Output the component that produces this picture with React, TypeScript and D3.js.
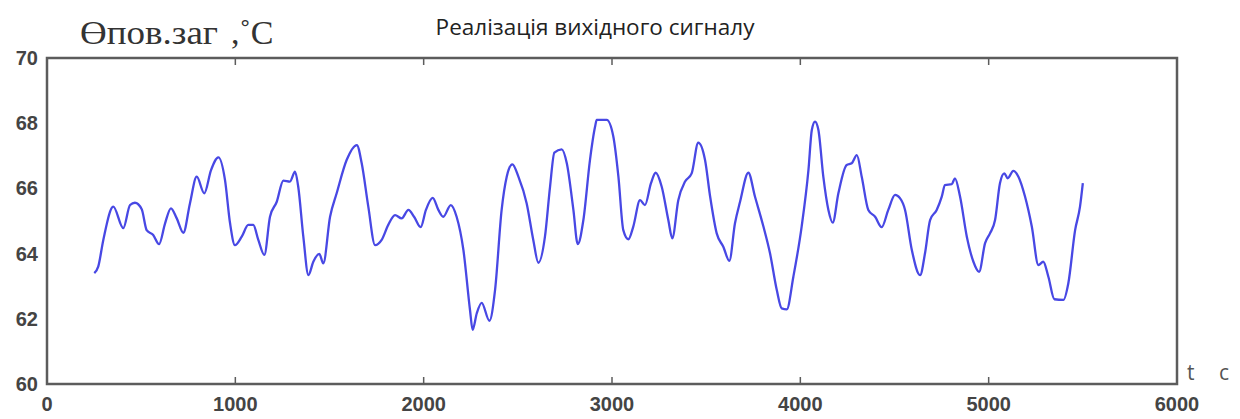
import React from "react";
import * as d3 from "d3";

const times = [251,272,299,352,405,441,467,503,529,564,595,627,658,689,724,759,795,835,871,910,945,972,998,1034,1069,1095,1122,1154,1184,1220,1255,1290,1317,1334,1361,1388,1414,1446,1467,1503,1538,1591,1645,1671,1706,1742,1777,1812,1848,1883,1919,1949,1984,2012,2048,2078,2104,2144,2175,2211,2246,2260,2282,2308,2349,2379,2414,2441,2471,2503,2547,2582,2609,2644,2671,2694,2733,2760,2795,2818,2848,2883,2910,2919,2972,3007,3034,3060,3087,3113,3149,3175,3207,3232,3264,3299,3320,3352,3388,3423,3458,3494,3521,3556,3591,3623,3653,3680,3724,3759,3804,3839,3875,3901,3928,3963,4007,4043,4061,4078,4096,4122,4149,4172,4202,4246,4273,4300,4326,4361,4397,4432,4467,4503,4529,4556,4592,4636,4662,4689,4724,4751,4768,4804,4821,4848,4884,4919,4949,4981,5007,5034,5060,5083,5101,5131,5158,5193,5229,5264,5290,5317,5349,5397,5423,5459,5485,5500];
const temps = [63.40,63.60,64.42,65.44,64.78,65.49,65.56,65.36,64.72,64.57,64.29,64.93,65.39,65.08,64.64,65.54,66.36,65.85,66.56,66.95,66.26,64.93,64.26,64.52,64.88,64.88,64.42,63.96,65.13,65.59,66.24,66.21,66.51,66.05,64.52,63.34,63.75,63.99,63.70,65.13,65.85,66.87,67.33,66.77,65.44,64.26,64.42,64.88,65.18,65.08,65.34,65.13,64.81,65.34,65.71,65.34,65.13,65.49,65.13,64.11,62.27,61.66,62.17,62.49,61.94,62.88,65.34,66.36,66.74,66.36,65.54,64.42,63.72,64.52,66.05,67.10,67.20,66.77,65.34,64.29,65.03,66.87,67.89,68.10,68.10,67.59,66.36,64.72,64.44,64.83,65.64,65.49,66.16,66.48,66.05,65.03,64.47,65.64,66.21,66.46,67.40,66.87,65.75,64.62,64.21,63.78,64.93,65.59,66.48,65.75,64.83,64.01,62.88,62.32,62.29,63.29,64.83,66.56,67.79,68.05,67.79,66.36,65.34,64.95,65.85,66.72,66.77,67.02,66.36,65.34,65.13,64.81,65.34,65.80,65.70,65.34,64.11,63.34,64.01,65.03,65.34,65.75,66.10,66.13,66.31,65.75,64.52,63.75,63.44,64.32,64.62,65.03,66.16,66.46,66.31,66.54,66.36,65.75,64.83,63.65,63.75,63.29,62.60,62.58,63.09,64.72,65.44,66.16];

const xTicks = [0,1000,2000,3000,4000,5000,6000];
const yTicks = [60,62,64,66,68,70];
const title = "Реалізація вихідного сигналу";
const yLabelMain = "Өпов.заг";
const yLabelUnit = ",˚С";
const xLabelT = "t";
const xLabelUnit = "с";

const W = 1240, H = 419;
const left = 47, right = 1177, top = 58, bottom = 384;

export default function App() {
  const x = d3.scaleLinear().domain([0, 6000]).range([left, right]);
  const y = d3.scaleLinear().domain([60, 70]).range([bottom, top]);
  const data = times.map((t, i) => [t, temps[i]] as [number, number]);
  const line = d3.line<[number, number]>().x(d => x(d[0])).y(d => y(d[1])).curve(d3.curveMonotoneX);
  const axisColor = "#5c5c5c";
  const labelColor = "#444";
  return (
    <svg width={W} height={H} style={{ position: "absolute", left: 0, top: 0, background: "#fff" }}>
      <rect x={left} y={top} width={right - left} height={bottom - top} fill="none" stroke={axisColor} strokeWidth={2.5} />
      {xTicks.slice(1, -1).map(t => (
        <g key={"xt" + t}>
          <line x1={x(t)} x2={x(t)} y1={bottom} y2={bottom - 7} stroke={axisColor} strokeWidth={1.5} />
          <line x1={x(t)} x2={x(t)} y1={top} y2={top + 7} stroke={axisColor} strokeWidth={1.5} />
        </g>
      ))}
      {xTicks.map(t => (
        <text key={"xl" + t} x={x(t)} y={bottom + 27} textAnchor="middle" fontFamily="Liberation Sans, Arial, sans-serif" fontWeight="bold" fontSize={20} fill={labelColor}>{t}</text>
      ))}
      {yTicks.map(v => (
        <text key={"yl" + v} x={left - 9} y={y(v) + 7} textAnchor="end" fontFamily="Liberation Sans, Arial, sans-serif" fontWeight="bold" fontSize={20} fill={labelColor}>{v}</text>
      ))}
      <path d={line(data) || ""} fill="none" stroke="#4848e4" strokeWidth={2.3} strokeLinejoin="round" />
      <text x={595} y={35} textAnchor="middle" fontFamily="Open Sans, Noto Sans, sans-serif" fontSize={22.5} fill="#222">{title}</text>
      <text x={80} y={44} fontFamily="Liberation Serif, Times New Roman, serif" fontSize={34} fill="#333" textLength={138} lengthAdjust="spacingAndGlyphs">{yLabelMain}</text>
      <text x={231} y={44} fontFamily="Liberation Serif, Times New Roman, serif" fontSize={34} fill="#333">{yLabelUnit}</text>
      <text x={1187} y={380} fontFamily="Open Sans, sans-serif" fontSize={21} fill="#555">{xLabelT}</text>
      <text x={1219} y={380} fontFamily="Open Sans, sans-serif" fontSize={21} fill="#555">{xLabelUnit}</text>
    </svg>
  );
}
